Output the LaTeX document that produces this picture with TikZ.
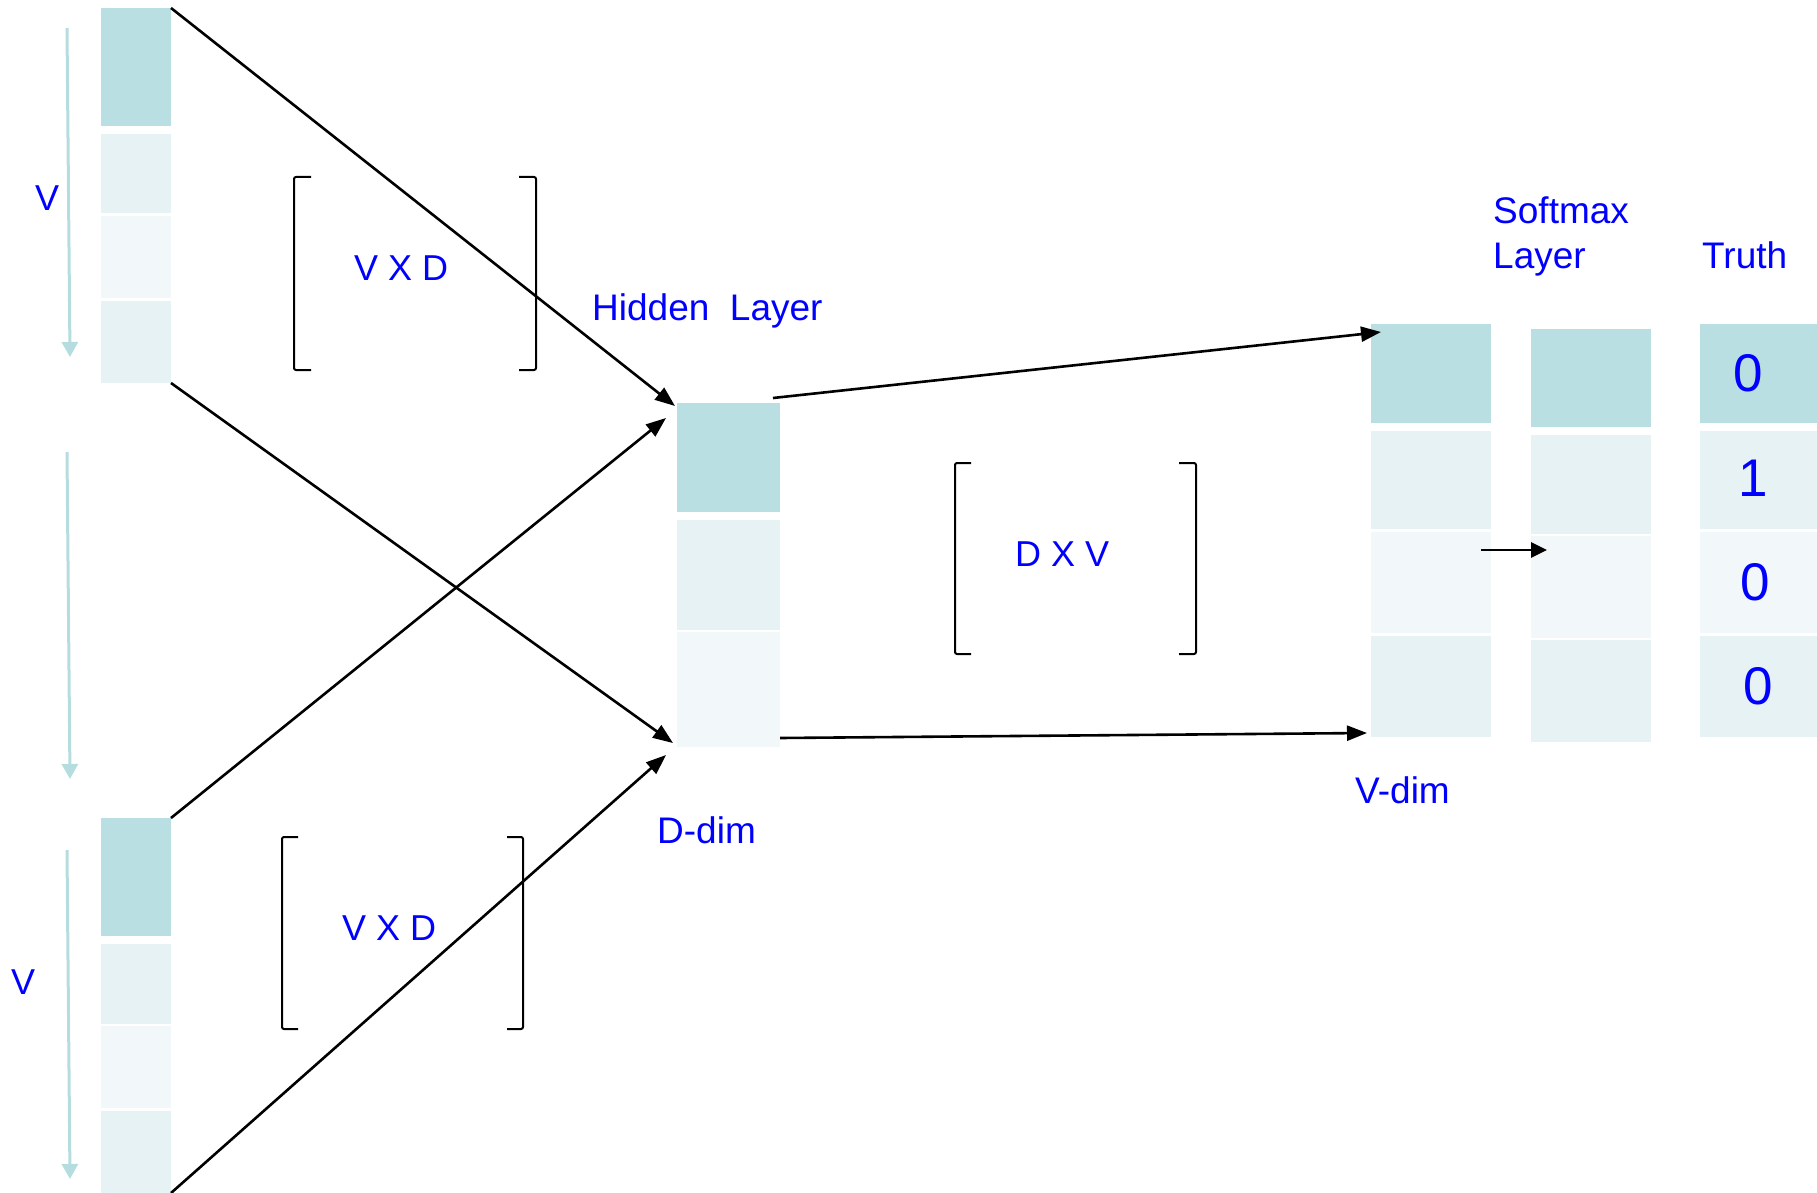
\documentclass[tikz,border=0pt]{standalone}
\usepackage{fontspec}
\setmainfont{Liberation Sans}
\usetikzlibrary{arrows.meta}
\definecolor{tealA}{RGB}{186,223,226}
\definecolor{tealB}{RGB}{230,242,244}
\definecolor{tealC}{RGB}{242,248,250}
\definecolor{tealArrow}{RGB}{181,221,224}
\definecolor{lblue}{RGB}{0,0,255}
\begin{document}
\begin{tikzpicture}[x=1pt,y=-1pt,
  cell/.style={draw=none,inner sep=0pt,outer sep=0pt,anchor=north west},
  cA/.style={cell,fill=tealA},
  cB/.style={cell,fill=tealB},
  cC/.style={cell,fill=tealC},
  lbl/.style={text=lblue,inner sep=0pt,anchor=base west,font=\fontsize{37}{44}\selectfont},
  mlbl/.style={text=lblue,inner sep=0pt,anchor=base west,font=\fontsize{36}{42}\selectfont},
  digit/.style={text=lblue,inner sep=0pt,anchor=center,font=\fontsize{53}{60}\selectfont},
  conn/.style={line width=2.6pt,-{Triangle[length=20pt,width=15pt]}},
  varrow/.style={draw=tealArrow,line width=3pt,-{Triangle[length=15pt,width=16pt]}},
  bracket/.style={line width=2pt,rounded corners=2pt}
]
\useasboundingbox (0,0) rectangle (1817,1193);

% top input column
\node[cA,minimum width=70pt,minimum height=118pt] (t1) at (101,8) {};
\node[cB,minimum width=70pt,minimum height=79pt] (t2) at (101,134) {};
\node[cC,minimum width=70pt,minimum height=82pt] (t3) at (101,216) {};
\node[cB,minimum width=70pt,minimum height=82pt] (t4) at (101,301) {};
% bottom input column
\node[cA,minimum width=70pt,minimum height=118pt] (b1) at (101,818) {};
\node[cB,minimum width=70pt,minimum height=80pt] (b2) at (101,944) {};
\node[cC,minimum width=70pt,minimum height=82pt] (b3) at (101,1026) {};
\node[cB,minimum width=70pt,minimum height=82pt] (b4) at (101,1111) {};
% hidden column
\node[cA,minimum width=103pt,minimum height=109pt] (h1) at (677,403) {};
\node[cB,minimum width=103pt,minimum height=110pt] (h2) at (677,520) {};
\node[cC,minimum width=103pt,minimum height=115pt] (h3) at (677,632) {};
% output column
\node[cA,minimum width=120pt,minimum height=99pt] (o1) at (1371,324) {};
\node[cB,minimum width=120pt,minimum height=98pt] (o2) at (1371,431) {};
\node[cC,minimum width=120pt,minimum height=101pt] (o3) at (1371,532) {};
\node[cB,minimum width=120pt,minimum height=101pt] (o4) at (1371,636) {};
% softmax column
\node[cA,minimum width=120pt,minimum height=98pt] (s1) at (1531,329) {};
\node[cB,minimum width=120pt,minimum height=99pt] (s2) at (1531,435) {};
\node[cC,minimum width=120pt,minimum height=102pt] (s3) at (1531,536) {};
\node[cB,minimum width=120pt,minimum height=102pt] (s4) at (1531,640) {};
% truth column
\node[cA,minimum width=117pt,minimum height=99pt] (r1) at (1700,324) {};
\node[cB,minimum width=117pt,minimum height=98pt] (r2) at (1700,431) {};
\node[cC,minimum width=117pt,minimum height=101pt] (r3) at (1700,532) {};
\node[cB,minimum width=117pt,minimum height=101pt] (r4) at (1700,636) {};
\node[digit] (d1) at (1748,373) {0};
\node[digit] (d2) at (1753,478) {1};
\node[digit] (d3) at (1755,582) {0};
\node[digit] (d4) at (1758,686) {0};

% labels
\node[mlbl] (vtop) at (35,211) {V};
\node[mlbl] (vbot) at (11,994) {V};
\node[mlbl] (vxd1) at (354,280) {V X D};
\node[mlbl] (vxd2) at (342,940) {V X D};
\node[mlbl] (dxv) at (1015,566) {D X V};
\node[lbl] (hid) at (592,320) {Hidden\ \ Layer};
\node[lbl] (ddim) at (657,843) {D-dim};
\node[lbl] (vdim) at (1355,803) {V-dim};
\node[lbl] (soft) at (1493,223) {Softmax};
\node[lbl] (softl) at (1493,268) {Layer};
\node[lbl] (truth) at (1702,268) {Truth};

% brackets
\draw[bracket] (311,177) -- (294,177) -- (294,370) -- (311,370);
\draw[bracket] (519,177) -- (536,177) -- (536,370) -- (519,370);
\draw[bracket] (298,837) -- (282,837) -- (282,1029) -- (298,1029);
\draw[bracket] (507,837) -- (523,837) -- (523,1029) -- (507,1029);
\draw[bracket] (971,463) -- (955,463) -- (955,654) -- (971,654);
\draw[bracket] (1179,463) -- (1196,463) -- (1196,654) -- (1179,654);

% light teal direction arrows
\coordinate (va1) at (67,28);  \coordinate (vb1) at (70,357);
\coordinate (va2) at (67,452); \coordinate (vb2) at (70,779);
\coordinate (va3) at (67,850); \coordinate (vb3) at (70,1179);
\draw[varrow] (va1) -- (vb1);
\draw[varrow] (va2) -- (vb2);
\draw[varrow] (va3) -- (vb3);

% connectors
\coordinate (h1in) at (675,406);
\coordinate (h1in2) at (666,418);
\coordinate (h3in) at (673,743);
\coordinate (h3in2) at (666,755);
\coordinate (h1out) at (773,398);
\coordinate (h3out) at (780,738);
\coordinate (o1in) at (1381,332);
\coordinate (o4in) at (1367,733);
\coordinate (o3out) at (1481,550);
\coordinate (s3in) at (1547,550);
\draw[conn] (t1.north east) -- (h1in);
\draw[conn] (t4.south east) -- (h3in);
\draw[conn] (b1.north east) -- (h1in2);
\draw[conn] (b4.south east) -- (h3in2);
\draw[conn] (h1out) -- (o1in);
\draw[conn] (h3out) -- (o4in);
\draw[conn,-{Triangle[length=16pt,width=15pt]}] (o3out) -- (s3in);
\end{tikzpicture}
\end{document}
